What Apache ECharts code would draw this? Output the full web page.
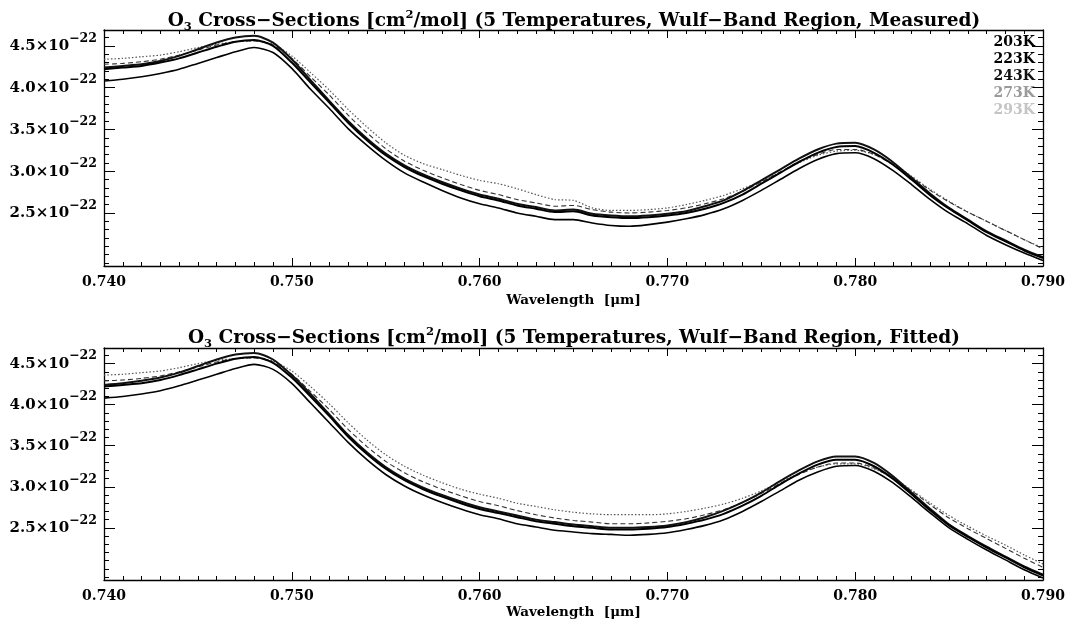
<!DOCTYPE html>
<html><head><meta charset="utf-8">
<script src="https://cdn.jsdelivr.net/npm/echarts/dist/echarts.min.js"></script>
<style>html,body{margin:0;padding:0;background:#fff}#c{width:1068px;height:628px}</style>
</head><body><div id="c"></div>
<script>
// ---- data (cross-sections in units of 1e-22 cm^2/mol) ----
const WAVELENGTHS = [0.740,0.741,0.742,0.743,0.744,0.745,0.746,0.747,0.748,0.749,
  0.750,0.751,0.752,0.753,0.754,0.755,0.756,0.757,0.758,0.759,
  0.760,0.761,0.762,0.763,0.764,0.765,0.766,0.767,0.768,0.769,
  0.770,0.771,0.772,0.773,0.774,0.775,0.776,0.777,0.778,0.779,
  0.780,0.781,0.782,0.783,0.784,0.785,0.786,0.787,0.788,0.789,0.790];
const TEMPS = ['203K','223K','243K','273K','293K'];
const Y_TICKS = [2.5,3.0,3.5,4.0,4.5];
const Y_MINOR = [1.9,2.0,2.1,2.2,2.3,2.4,2.6,2.7,2.8,2.9,3.1,3.2,3.3,3.4,3.6,3.7,3.8,3.9,4.1,4.2,4.3,4.4,4.6];

const MEAS_203K = [4.08,4.10,4.13,4.17,4.22,4.29,4.36,4.43,4.48,4.42,4.23,3.98,3.75,3.51,3.31,3.13,2.98,2.87,2.77,2.68,2.61,2.56,2.50,2.46,2.42,2.42,2.38,2.35,2.34,2.36,2.39,2.43,2.48,2.55,2.65,2.77,2.90,3.03,3.14,3.21,3.22,3.15,3.01,2.84,2.66,2.50,2.37,2.23,2.12,2.02,1.93];
const MEAS_223K = [4.22,4.24,4.26,4.30,4.35,4.42,4.49,4.55,4.57,4.50,4.30,4.06,3.82,3.58,3.37,3.19,3.05,2.94,2.85,2.77,2.70,2.65,2.59,2.55,2.51,2.52,2.47,2.45,2.44,2.45,2.47,2.50,2.55,2.62,2.72,2.85,2.98,3.11,3.22,3.29,3.30,3.22,3.08,2.90,2.71,2.55,2.41,2.27,2.16,2.05,1.96];
const MEAS_243K = [4.24,4.26,4.28,4.32,4.38,4.46,4.54,4.60,4.62,4.54,4.34,4.09,3.84,3.60,3.39,3.21,3.07,2.96,2.87,2.79,2.72,2.67,2.61,2.57,2.53,2.54,2.49,2.47,2.46,2.47,2.49,2.52,2.58,2.65,2.76,2.89,3.02,3.15,3.26,3.33,3.34,3.26,3.11,2.92,2.73,2.56,2.42,2.28,2.17,2.06,1.97];
const MEAS_273K = [4.28,4.29,4.31,4.34,4.39,4.45,4.51,4.55,4.56,4.51,4.35,4.13,3.91,3.67,3.46,3.27,3.12,3.01,2.92,2.84,2.77,2.72,2.66,2.62,2.58,2.59,2.54,2.51,2.50,2.51,2.53,2.56,2.61,2.67,2.76,2.87,2.99,3.11,3.20,3.26,3.26,3.20,3.08,2.93,2.77,2.63,2.51,2.40,2.29,2.18,2.07];
const MEAS_293K = [4.34,4.35,4.37,4.39,4.43,4.48,4.52,4.55,4.56,4.52,4.38,4.18,3.97,3.74,3.53,3.34,3.19,3.09,3.02,2.95,2.89,2.85,2.79,2.72,2.66,2.65,2.56,2.53,2.53,2.54,2.56,2.60,2.65,2.71,2.79,2.88,2.99,3.10,3.19,3.24,3.25,3.20,3.09,2.94,2.78,2.64,2.51,2.40,2.29,2.18,2.08];

const FIT_203K = [4.08,4.10,4.13,4.17,4.23,4.30,4.37,4.44,4.49,4.43,4.26,4.02,3.78,3.54,3.33,3.15,3.01,2.90,2.81,2.73,2.66,2.61,2.55,2.51,2.47,2.45,2.43,2.42,2.41,2.42,2.44,2.48,2.53,2.60,2.70,2.82,2.95,3.08,3.18,3.25,3.26,3.19,3.05,2.87,2.68,2.50,2.36,2.23,2.11,1.99,1.89];
const FIT_223K = [4.22,4.24,4.26,4.30,4.36,4.43,4.50,4.56,4.58,4.51,4.33,4.10,3.86,3.61,3.40,3.22,3.08,2.97,2.88,2.80,2.73,2.68,2.63,2.58,2.55,2.52,2.50,2.48,2.48,2.49,2.51,2.55,2.60,2.67,2.77,2.89,3.03,3.16,3.27,3.33,3.33,3.25,3.10,2.91,2.71,2.53,2.39,2.26,2.14,2.02,1.92];
const FIT_243K = [4.24,4.26,4.29,4.33,4.39,4.47,4.55,4.61,4.63,4.55,4.36,4.13,3.88,3.63,3.42,3.24,3.10,2.99,2.90,2.82,2.75,2.70,2.65,2.60,2.57,2.54,2.52,2.50,2.50,2.51,2.53,2.57,2.63,2.71,2.81,2.93,3.07,3.20,3.31,3.37,3.37,3.29,3.13,2.93,2.73,2.54,2.40,2.27,2.15,2.03,1.93];
const FIT_273K = [4.29,4.30,4.32,4.35,4.40,4.46,4.52,4.56,4.57,4.52,4.37,4.16,3.94,3.70,3.49,3.31,3.17,3.06,2.97,2.89,2.82,2.77,2.71,2.66,2.62,2.59,2.57,2.55,2.55,2.56,2.58,2.61,2.66,2.72,2.81,2.92,3.04,3.15,3.24,3.29,3.29,3.23,3.10,2.95,2.78,2.62,2.49,2.37,2.25,2.13,2.02];
const FIT_293K = [4.36,4.37,4.39,4.41,4.45,4.50,4.54,4.56,4.57,4.53,4.41,4.22,4.01,3.78,3.57,3.39,3.25,3.14,3.05,2.97,2.91,2.86,2.80,2.76,2.72,2.69,2.67,2.66,2.66,2.66,2.67,2.70,2.74,2.79,2.86,2.95,3.06,3.16,3.24,3.28,3.28,3.22,3.11,2.96,2.80,2.65,2.52,2.40,2.29,2.17,2.06];

const MEASURED = [MEAS_203K, MEAS_223K, MEAS_243K, MEAS_273K, MEAS_293K];
const FITTED = [FIT_203K, FIT_223K, FIT_243K, FIT_273K, FIT_293K];

// ---- styling ----
const FONT = '"DejaVu Serif", "Liberation Serif", serif';
const Y_MIN = 1.865, Y_MAX = 4.69;
const LINE_STYLES = [
  {color:'#000', width:1.6, type:'solid'},
  {color:'#000', width:2.0, type:'solid'},
  {color:'#111', width:2.0, type:'solid'},
  {color:'#333', width:1.1, type:[5,3]},
  {color:'#555', width:1.2, type:[1.5,2]}
];
const LEGEND_COLORS = ['#000','#000','#111','#9a9a9a','#c4c4c4'];
const PANELS = [
  {grid:{left:104, right:25, top:30, height:236}, nameGap:27, title:'Measured', titleY:21},
  {grid:{left:104, right:25, top:348, height:232}, nameGap:25, title:'Fitted', titleY:338}
];

const xAxes = [], yAxes = [], series = [];
PANELS.forEach((p, gi) => {
  const tickCommon = {lineStyle:{color:'#000', width:1}};
  xAxes.push({
    gridIndex: gi, type:'value', min:0.74, max:0.79, interval:0.01, position:'bottom',
    axisLine:{show:true, onZero:false, lineStyle:{color:'#000', width:1.3}},
    axisTick:{show:true, inside:true, length:8, ...tickCommon},
    minorTick:{show:true, splitNumber:10, length:4, ...tickCommon},
    splitLine:{show:false},
    axisLabel:{formatter: v => v.toFixed(3), fontFamily:FONT, fontWeight:'bold', fontSize:14, color:'#000', margin:9},
    name:'Wavelength  [\u03bcm]', nameLocation:'middle', nameGap:p.nameGap,
    nameTextStyle:{fontFamily:FONT, fontWeight:'bold', fontSize:13.5, color:'#000'}
  });
  xAxes.push({
    gridIndex: gi, type:'value', min:0.74, max:0.79, interval:0.01, position:'top',
    axisLine:{show:true, onZero:false, lineStyle:{color:'#000', width:1.3}},
    axisTick:{show:true, inside:true, length:8, ...tickCommon},
    minorTick:{show:true, splitNumber:10, length:4, ...tickCommon},
    splitLine:{show:false}, axisLabel:{show:false}
  });
  ['left','right'].forEach(pos => {
    yAxes.push({
      gridIndex: gi, type:'value', min:Y_MIN, max:Y_MAX, position:pos,
      axisLine:{show:true, onZero:false, lineStyle:{color:'#000', width:1.3}},
      axisTick:{show:true, inside:true, length:11, customValues:Y_TICKS, ...tickCommon},
      splitLine:{show:false},
      axisLabel: pos === 'left' ? {
        customValues:Y_TICKS, margin:7,
        formatter: v => '{m|' + v.toFixed(1) + '\u00d710}{s|\u221222}',
        rich:{
          m:{fontFamily:FONT, fontWeight:'bold', fontSize:15, color:'#000', verticalAlign:'bottom', lineHeight:16},
          s:{fontFamily:FONT, fontWeight:'bold', fontSize:12.5, color:'#000', verticalAlign:'bottom', lineHeight:12, padding:[0,0,9,0]}
        }
      } : {show:false}
    });
    yAxes.push({
      gridIndex: gi, type:'value', min:Y_MIN, max:Y_MAX, position:pos,
      axisLine:{show:false},
      axisTick:{show:true, inside:true, length:5, customValues:Y_MINOR, ...tickCommon},
      splitLine:{show:false}, axisLabel:{show:false}
    });
  });
  const sets = gi === 0 ? MEASURED : FITTED;
  sets.forEach((arr, si) => {
    series.push({
      name: TEMPS[si], type:'line', xAxisIndex: gi*2, yAxisIndex: gi*4,
      data: WAVELENGTHS.map((w, i) => [w, arr[i]]),
      symbol:'none', showSymbol:false, smooth:0.25, silent:true,
      lineStyle: LINE_STYLES[si], z: 10 - si
    });
  });
});

function titleText(kind) {
  return '{n|O}{b|3}{n| Cross\u2212Sections [cm}{t|2}{n|/mol] (5 Temperatures, Wulf\u2212Band Region, ' + kind + ')}';
}
const titleRich = {
  n:{fontFamily:FONT, fontWeight:'bold', fontSize:18.5, color:'#000', lineHeight:24, verticalAlign:'middle'},
  b:{fontFamily:FONT, fontWeight:'bold', fontSize:11.5, color:'#000', lineHeight:11, verticalAlign:'bottom'},
  t:{fontFamily:FONT, fontWeight:'bold', fontSize:11.5, color:'#000', lineHeight:11, verticalAlign:'top'}
};

const chart = echarts.init(document.getElementById('c'), null, {renderer:'canvas'});
chart.setOption({
  backgroundColor:'#fff', animation:false,
  grid: PANELS.map(p => p.grid),
  xAxis: xAxes, yAxis: yAxes, series: series,
  legend: {
    data: TEMPS.map((t, i) => ({name:t, icon:'none', textStyle:{color:LEGEND_COLORS[i]}})),
    orient:'vertical', right:33, top:35, itemWidth:0, itemHeight:13, itemGap:3, padding:0,
    selectedMode:false,
    textStyle:{fontFamily:FONT, fontWeight:'bold', fontSize:14, padding:[0,0,0,-5]}
  },
  graphic: PANELS.map(p => ({
    type:'text', x: 574, y: p.titleY,
    style:{text: titleText(p.title), rich: titleRich, align:'center', verticalAlign:'middle'}
  }))
});
</script>
</body></html>
